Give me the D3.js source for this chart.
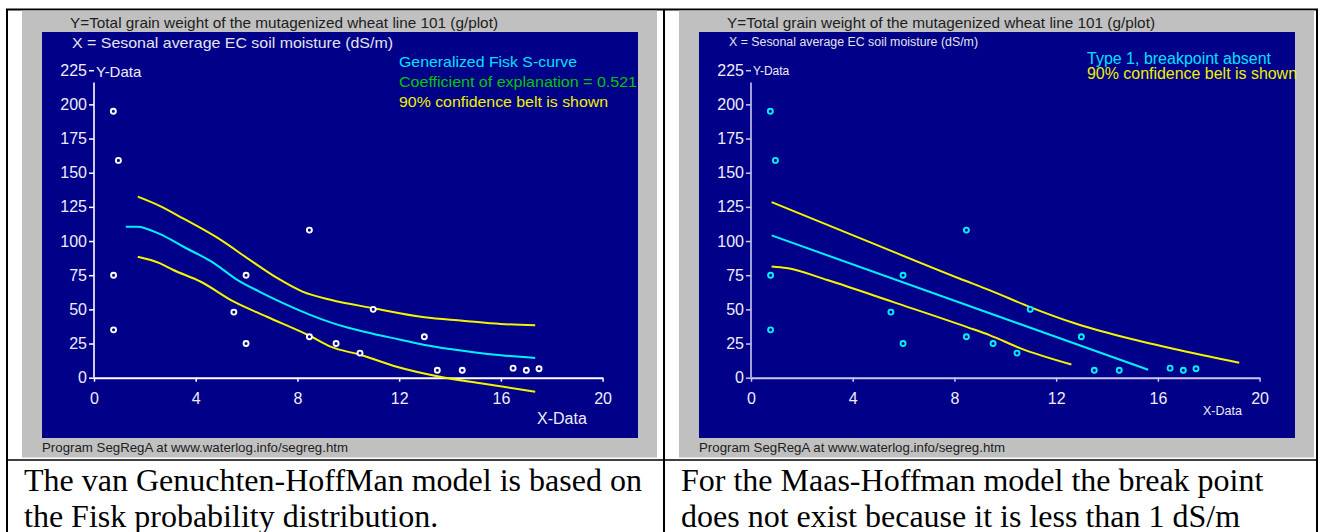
<!DOCTYPE html>
<html><head><meta charset="utf-8">
<script src="https://cdn.jsdelivr.net/npm/d3@7"></script>
<style>body{margin:0;background:#fff;} svg{display:block;}</style>
</head><body>
<svg id="c" width="1321" height="532"></svg>
<script>
// Axis ticks
const xTicks = [0, 4, 8, 12, 16, 20];
const yTicks = [0, 25, 50, 75, 100, 125, 150, 175, 200, 225];

// Observed plots: seasonal EC (dS/m) and grain weight (g/plot)
const obsEC    = [0.76, 0.96, 0.77, 0.77, 5.5, 5.98, 5.98, 8.47, 8.47, 9.52, 10.46, 10.98, 12.99, 13.5, 14.48, 16.48, 17.0, 17.5];
const obsYield = [195, 159, 75, 35, 48, 75, 25, 108, 30, 25, 18, 50, 30, 5.5, 5.5, 7, 5.5, 6.5];

// Generalized Fisk S-curve with its 90% confidence belt
const fiskFit   = [[1.25,110.5],[1.7,110.5],[2.6,105],[3.5,96],[4.7,84],[5.6,72],[6.5,63],[7.5,54],[8.5,46],[9.3,40.5],[10,36.5],[11,32],[12,28],[13,24],[14,21],[15,18.5],[16,16.5],[17.35,14.5]];
const fiskUpper = [[1.72,132.5],[2.6,125.6],[3.5,116.6],[4.8,103],[6.3,84],[7.2,73],[8.2,63],[9.3,57],[11,50.8],[13,44.2],[14.5,41.7],[16,39.3],[17.35,38.3]];
const fiskLower = [[1.72,88.5],[2.6,83.7],[3.1,79],[4.2,70.2],[5.5,55.6],[6.8,44.6],[8.5,30.5],[9.3,22.7],[10.5,16.6],[11.9,8],[13.6,0.7],[15.2,-4.1],[17.35,-10.2]];

// Maas-Hoffman type 1 (no breakpoint) with its 90% confidence belt
const mhFit   = [[0.81,104.1],[15.62,5.8]];
const mhUpper = [[0.81,128.5],[4.5,100.5],[8.22,72.4],[9.4,63.9],[11,51.5],[12.7,40],[14.6,30],[16.6,21.2],[19.2,11]];
const mhLower = [[0.81,81.4],[1.4,80.2],[3,71.5],[5.6,55.3],[8.5,37],[9.4,31],[10.6,21.5],[12.6,9.7]];

const titleY = "Y=Total grain weight of the mutagenized wheat line 101 (g/plot)";
const titleX = "X = Sesonal average EC soil moisture (dS/m)";
const credit = "Program SegRegA at www.waterlog.info/segreg.htm";

const svg = d3.select("#c");
const SANS = "'Liberation Sans', Arial, sans-serif";
const NAVY = "#000088";

// table frame
const frame = svg.append("g").attr("stroke", "#000").attr("fill", "none");
frame.append("rect").attr("x", 7).attr("y", 9.5).attr("width", 1310).attr("height", 540).attr("stroke-width", 2);
frame.append("line").attr("x1", 664).attr("x2", 664).attr("y1", 9).attr("y2", 532).attr("stroke-width", 2);
frame.append("line").attr("x1", 7).attr("x2", 1317).attr("y1", 460).attr("y2", 460).attr("stroke-width", 1.6);

function panel(dx, opt) {
  const g = svg.append("g").attr("transform", `translate(${dx},0)`);
  g.append("rect").attr("x", 22).attr("y", 10.5).attr("width", 635).attr("height", 447).attr("fill", "#c0c0c0");
  g.append("rect").attr("x", 42).attr("y", 32).attr("width", 596).attr("height", 406).attr("fill", NAVY);

  const x = d3.scaleLinear().domain([0, 20]).range([94, 602.6]);
  const y = d3.scaleLinear().domain([0, 225]).range([377.7, 70.2]);

  // header texts
  g.append("text").attr("x", 70).attr("y", 28).attr("font-family", SANS).attr("font-size", 15)
    .attr("fill", "#202020").attr("textLength", 428).attr("lengthAdjust", "spacingAndGlyphs").text(titleY);
  g.append("text").attr("x", 72).attr("y", opt.xtY).attr("font-family", SANS).attr("font-size", opt.xtSize)
    .attr("fill", "#e4e4ee").attr("textLength", opt.xtLen).attr("lengthAdjust", "spacingAndGlyphs").text(titleX);
  g.append("text").attr("x", 42).attr("y", 452).attr("font-family", SANS).attr("font-size", 13)
    .attr("fill", "#202020").attr("textLength", opt.creditLen).attr("lengthAdjust", "spacingAndGlyphs").text(credit);

  // axes
  const axCol = opt.axisColor;
  const ya = g.append("g").attr("transform", `translate(${x(0)},0)`)
    .call(d3.axisLeft(y).tickValues(yTicks).tickSize(5).tickPadding(2).tickSizeOuter(0));
  ya.select(".domain").remove();
  ya.selectAll("line").attr("stroke", axCol).attr("stroke-width", 1.5);
  ya.selectAll("text").attr("font-family", SANS).attr("font-size", 16).attr("fill", "#eeeef8");
  g.append("line").attr("x1", x(0)).attr("x2", x(0)).attr("y1", y(216)).attr("y2", y(0))
    .attr("stroke", axCol).attr("stroke-width", 1.6);

  const xa = g.append("g").attr("transform", `translate(0,${y(0)})`)
    .call(d3.axisBottom(x).tickValues(xTicks).tickSize(4).tickPadding(11).tickSizeOuter(0));
  xa.select(".domain").attr("stroke", axCol).attr("stroke-width", 2);
  xa.selectAll("line").attr("stroke", axCol).attr("stroke-width", 1.5);
  xa.selectAll("text").attr("font-family", SANS).attr("font-size", 16).attr("fill", "#eeeef8");

  g.append("text").attr("x", 96).attr("y", opt.ydY).attr("font-family", SANS).attr("font-size", opt.ydSize)
    .attr("fill", "#eeeef8").text("Y-Data");
  g.append("text").attr("x", opt.xdX).attr("y", opt.xdY).attr("font-family", SANS).attr("font-size", opt.xdSize)
    .attr("fill", "#eeeef8").text("X-Data");

  // legend
  opt.legend.forEach(l => {
    g.append("text").attr("x", l.x).attr("y", l.y).attr("font-family", SANS).attr("font-size", l.size)
      .attr("fill", l.color).attr("textLength", l.len).attr("lengthAdjust", "spacingAndGlyphs").text(l.text);
  });

  // curves
  const line = d3.line().x(d => x(d[0])).y(d => y(d[1])).curve(opt.curve);
  opt.curves.forEach(c => {
    g.append("path").datum(c.data).attr("d", line).attr("fill", "none")
      .attr("stroke", c.color).attr("stroke-width", 2).attr("stroke-linejoin", "round");
  });

  // observations
  g.append("g").selectAll("circle").data(d3.range(obsEC.length)).join("circle")
    .attr("cx", i => x(obsEC[i])).attr("cy", i => y(obsYield[i])).attr("r", 2.5)
    .attr("fill", NAVY).attr("stroke", opt.dotColor).attr("stroke-width", 1.9);
}

panel(0, {
  xtY: 48, xtSize: 15, xtLen: 321, creditLen: 306,
  axisColor: "#ffffff", dotColor: "#ffffff",
  ydY: 77, ydSize: 15, xdX: 537, xdY: 424, xdSize: 16,
  curve: d3.curveMonotoneX,
  legend: [
    {text: "Generalized Fisk S-curve", x: 399, y: 67, size: 15, color: "#00e0ff", len: 178},
    {text: "Coefficient of explanation = 0.521", x: 399, y: 87, size: 15, color: "#00c800", len: 238},
    {text: "90% confidence belt is shown", x: 399, y: 107, size: 15, color: "#f0f000", len: 209}
  ],
  curves: [
    {data: fiskUpper, color: "#f4f400"},
    {data: fiskLower, color: "#f4f400"},
    {data: fiskFit, color: "#00f0ff"}
  ]
});

panel(657, {
  xtY: 46, xtSize: 12.5, xtLen: 249, creditLen: 306,
  axisColor: "#c8c8f0", dotColor: "#00f0ff",
  ydY: 75, ydSize: 12, xdX: 546, xdY: 415, xdSize: 12.5,
  curve: d3.curveMonotoneX,
  legend: [
    {text: "Type 1, breakpoint absent", x: 430, y: 64, size: 16, color: "#00e0ff", len: 184},
    {text: "90% confidence belt is shown", x: 430, y: 79, size: 16, color: "#f0f000", len: 210}
  ],
  curves: [
    {data: mhUpper, color: "#f4f400"},
    {data: mhLower, color: "#f4f400"},
    {data: mhFit, color: "#00f0ff"}
  ]
});

// captions below the charts
const SERIF = "'Liberation Serif', 'Times New Roman', serif";
const captions = [
  {x: 24, lines: ["The van Genuchten-HoffMan model is based on", "the Fisk probability distribution."]},
  {x: 681, lines: ["For the Maas-Hoffman model the break point", "does not exist because it is less than 1 dS/m"]}
];
captions.forEach(c => {
  c.lines.forEach((t, i) => {
    svg.append("text").attr("x", c.x).attr("y", 491 + i * 36).attr("font-family", SERIF)
      .attr("font-size", 32).attr("fill", "#000").text(t);
  });
});
</script>
</body></html>
